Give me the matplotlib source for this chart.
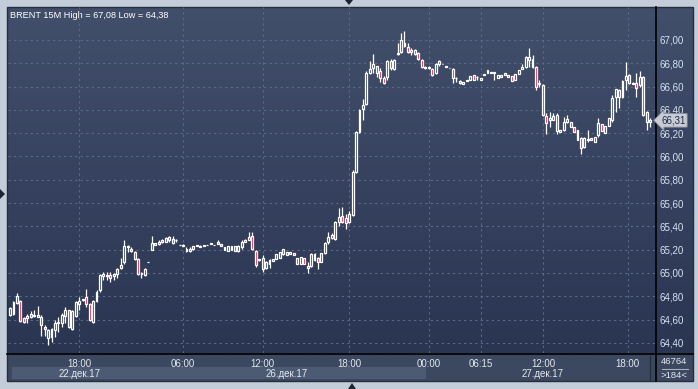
import numpy as np
import matplotlib.pyplot as plt
from matplotlib.colors import LinearSegmentedColormap
from matplotlib.patches import Rectangle, Polygon
from matplotlib.transforms import blended_transform_factory

plt.rcParams['font.family'] = ['Liberation Sans', 'DejaVu Sans']

# BRENT 15M, свечи (open, high, low, close)
opens = [64.64, 64.65, 64.74, 64.76, 64.61, 64.61, 64.65, 64.63, 64.62, 64.62,
         64.54, 64.44, 64.52, 64.51, 64.57, 64.57, 64.63, 64.68, 64.52, 64.63,
         64.73, 64.77, 64.79, 64.73, 64.58, 64.76, 64.85, 64.97, 64.97, 64.98,
         64.97, 64.99, 65.04, 65.09, 65.22, 65.21, 65.18, 65.12, 64.99, 64.98,
         65.09, 65.20, 65.24, 65.25, 65.28, 65.27, 65.28, 65.29, 65.28, 65.24,
         65.24, 65.21, 65.19, 65.21, 65.23, 65.23, 65.23, 65.24, 65.25, 65.24,
         65.25, 65.25, 65.22, 65.19, 65.20, 65.23, 65.19, 65.22, 65.27, 65.28,
         65.32, 65.19, 65.11, 65.13, 65.04, 65.08, 65.10, 65.12, 65.13, 65.21,
         65.18, 65.16, 65.17, 65.13, 65.08, 65.13, 65.06, 65.06, 65.16, 65.13,
         65.09, 65.17, 65.27, 65.33, 65.29, 65.44, 65.49, 65.47, 65.44, 65.50,
         65.87, 66.21, 66.41, 66.45, 66.72, 66.76, 66.78, 66.73, 66.67, 66.68,
         66.82, 66.75, 66.88, 66.90, 66.97, 66.94, 66.90, 66.91, 66.89, 66.83,
         66.77, 66.76, 66.75, 66.72, 66.79, 66.79, 66.77, 66.76, 66.75, 66.67,
         66.65, 66.62, 66.65, 66.66, 66.70, 66.68, 66.66, 66.70, 66.72, 66.72,
         66.72, 66.67, 66.70, 66.70, 66.70, 66.69, 66.66, 66.71, 66.75, 66.77,
         66.83, 66.84, 66.77, 66.62, 66.61, 66.35, 66.31, 66.31, 66.36, 66.21,
         66.23, 66.30, 66.30, 66.25, 66.23, 66.16, 66.08, 66.14, 66.14, 66.12,
         66.18, 66.28, 66.20, 66.26, 66.31, 66.51, 66.57, 66.51, 66.66, 66.70,
         66.63, 66.63, 66.61, 66.68, 66.38, 66.30]
highs = [64.71, 64.76, 64.83, 64.77, 64.62, 64.65, 64.67, 64.68, 64.72, 64.64,
         64.55, 64.52, 64.53, 64.60, 64.62, 64.66, 64.71, 64.68, 64.68, 64.76,
         64.79, 64.78, 64.86, 64.74, 64.77, 64.85, 64.99, 65.01, 65.01, 65.01,
         65.00, 65.04, 65.13, 65.28, 65.24, 65.22, 65.19, 65.13, 65.01, 65.04,
         65.09, 65.32, 65.26, 65.28, 65.29, 65.31, 65.32, 65.32, 65.29, 65.24,
         65.25, 65.22, 65.22, 65.23, 65.24, 65.24, 65.24, 65.24, 65.25, 65.24,
         65.28, 65.25, 65.22, 65.23, 65.23, 65.23, 65.24, 65.28, 65.29, 65.35,
         65.35, 65.20, 65.12, 65.15, 65.10, 65.12, 65.12, 65.16, 65.18, 65.21,
         65.18, 65.18, 65.17, 65.13, 65.14, 65.13, 65.09, 65.17, 65.17, 65.14,
         65.17, 65.27, 65.35, 65.34, 65.45, 65.56, 65.57, 65.51, 65.53, 65.88,
         66.22, 66.41, 66.49, 66.73, 66.82, 66.88, 66.78, 66.76, 66.69, 66.83,
         66.84, 66.84, 66.97, 67.06, 67.08, 66.97, 66.93, 66.92, 66.90, 66.84,
         66.78, 66.78, 66.76, 66.80, 66.83, 66.79, 66.77, 66.76, 66.76, 66.68,
         66.66, 66.64, 66.66, 66.69, 66.70, 66.69, 66.67, 66.71, 66.74, 66.72,
         66.72, 66.70, 66.70, 66.72, 66.70, 66.69, 66.71, 66.74, 66.79, 66.86,
         66.93, 66.87, 66.78, 66.66, 66.62, 66.37, 66.38, 66.37, 66.37, 66.23,
         66.34, 66.36, 66.30, 66.25, 66.23, 66.17, 66.17, 66.23, 66.16, 66.17,
         66.33, 66.28, 66.26, 66.33, 66.53, 66.58, 66.58, 66.66, 66.81, 66.71,
         66.64, 66.72, 66.73, 66.69, 66.39, 66.33]
lows = [64.63, 64.64, 64.73, 64.58, 64.57, 64.57, 64.61, 64.62, 64.62, 64.46,
        64.46, 64.38, 64.41, 64.45, 64.49, 64.54, 64.57, 64.53, 64.51, 64.62,
        64.68, 64.76, 64.71, 64.59, 64.57, 64.75, 64.84, 64.94, 64.94, 64.92,
        64.94, 64.96, 65.03, 65.08, 65.18, 65.18, 65.11, 64.98, 64.96, 64.97,
        65.09, 65.20, 65.24, 65.24, 65.26, 65.27, 65.27, 65.25, 65.27, 65.24,
        65.23, 65.18, 65.18, 65.20, 65.23, 65.22, 65.23, 65.24, 65.25, 65.24,
        65.25, 65.23, 65.20, 65.19, 65.20, 65.19, 65.18, 65.21, 65.27, 65.28,
        65.20, 65.05, 65.10, 65.01, 65.03, 65.04, 65.10, 65.12, 65.13, 65.15,
        65.15, 65.16, 65.15, 65.08, 65.08, 65.08, 65.00, 65.05, 65.10, 65.03,
        65.09, 65.16, 65.25, 65.29, 65.28, 65.40, 65.43, 65.38, 65.43, 65.49,
        65.86, 66.20, 66.31, 66.44, 66.71, 66.72, 66.68, 66.64, 66.62, 66.66,
        66.74, 66.74, 66.87, 66.89, 66.94, 66.89, 66.87, 66.87, 66.83, 66.76,
        66.75, 66.75, 66.69, 66.71, 66.78, 66.79, 66.77, 66.76, 66.63, 66.64,
        66.62, 66.62, 66.65, 66.66, 66.66, 66.66, 66.66, 66.70, 66.72, 66.72,
        66.66, 66.67, 66.68, 66.70, 66.68, 66.65, 66.66, 66.71, 66.75, 66.76,
        66.77, 66.76, 66.57, 66.60, 66.35, 66.19, 66.25, 66.31, 66.19, 66.21,
        66.22, 66.29, 66.25, 66.21, 66.14, 66.02, 66.07, 66.12, 66.14, 66.12,
        66.17, 66.22, 66.20, 66.26, 66.30, 66.38, 66.42, 66.50, 66.57, 66.62,
        66.62, 66.51, 66.60, 66.35, 66.23, 66.25]
closes = [64.70, 64.75, 64.80, 64.59, 64.58, 64.63, 64.62, 64.64, 64.64, 64.55,
          64.52, 64.51, 64.45, 64.57, 64.58, 64.64, 64.68, 64.54, 64.67, 64.75,
          64.76, 64.77, 64.73, 64.60, 64.76, 64.84, 64.98, 64.99, 64.98, 64.96,
          64.99, 65.03, 65.07, 65.23, 65.23, 65.19, 65.12, 64.99, 65.00, 65.03,
          65.09, 65.26, 65.26, 65.27, 65.27, 65.30, 65.31, 65.26, 65.28, 65.24,
          65.23, 65.19, 65.21, 65.23, 65.24, 65.22, 65.24, 65.24, 65.25, 65.24,
          65.27, 65.23, 65.20, 65.23, 65.23, 65.19, 65.23, 65.27, 65.28, 65.31,
          65.21, 65.07, 65.12, 65.03, 65.09, 65.11, 65.12, 65.16, 65.18, 65.16,
          65.15, 65.18, 65.15, 65.08, 65.14, 65.08, 65.04, 65.16, 65.11, 65.09,
          65.17, 65.26, 65.31, 65.30, 65.44, 65.48, 65.44, 65.43, 65.51, 65.87,
          66.21, 66.40, 66.44, 66.72, 66.75, 66.79, 66.72, 66.67, 66.63, 66.82,
          66.76, 66.83, 66.89, 67.00, 66.95, 66.90, 66.91, 66.88, 66.84, 66.77,
          66.76, 66.77, 66.70, 66.79, 66.82, 66.79, 66.77, 66.76, 66.67, 66.67,
          66.63, 66.64, 66.66, 66.69, 66.66, 66.68, 66.67, 66.71, 66.74, 66.72,
          66.72, 66.70, 66.68, 66.72, 66.68, 66.65, 66.71, 66.74, 66.77, 66.85,
          66.85, 66.77, 66.60, 66.63, 66.36, 66.29, 66.33, 66.35, 66.22, 66.23,
          66.30, 66.32, 66.25, 66.21, 66.14, 66.07, 66.16, 66.15, 66.16, 66.17,
          66.29, 66.22, 66.26, 66.33, 66.50, 66.58, 66.51, 66.65, 66.69, 66.63,
          66.62, 66.59, 66.68, 66.36, 66.30, 66.31]

time_ticks = [20, 50, 73, 98, 121, 136, 154, 178.5]
time_labels = ['18:00', '06:00', '12:00', '18:00', '00:00', '06:15', '12:00', '18:00']
date_ticks = [20, 80, 154]
date_labels = ['22.дек.17', '26.дек.17', '27.дек.17']
price_ticks = [64.4, 64.6, 64.8, 65.0, 65.2, 65.4, 65.6, 65.8,
               66.0, 66.2, 66.4, 66.6, 66.8, 67.0]

W, H = 698, 389
fig = plt.figure(figsize=(W / 100, H / 100), dpi=100)
fig.patch.set_facecolor('#c3ccd9')

# рамка терминала в пиксельных координатах
bg = fig.add_axes([0, 0, 1, 1], zorder=0)
grad = np.linspace(0, 1, 256).reshape(-1, 1)
cmap = LinearSegmentedColormap.from_list('panel', ['#424f6b', '#2a3552'])
bg.imshow(grad, cmap=cmap, extent=(7, 693, 353, 7), aspect='auto')
bg.add_patch(Rectangle((7, 353), 686, 28, facecolor='#3c4860', edgecolor='none'))
bg.add_patch(Rectangle((12, 367), 414, 12, facecolor='#4c5a74', edgecolor='none'))
bg.add_patch(Rectangle((7, 7), 686, 374, facecolor='none', edgecolor='#262d3c', lw=1))
bg.plot([7, 693], [353.5, 353.5], color='black', lw=1.2)
bg.plot([655.5, 655.5], [7, 381], color='black', lw=1.2)
bg.plot([650, 650], [356, 380], color='#262d3c', lw=1)
bg.plot([662, 688], [368.5, 368.5], color='#a7b0bf', lw=0.8)
bg.text(10, 15, 'BRENT 15M High = 67,08 Low = 64,38', color='white', fontsize=6.6, va='center')
bg.text(674, 362, '46764', color='#e4e9f0', fontsize=6.8, ha='center', va='center')
bg.text(674, 375, '>184<', color='#e4e9f0', fontsize=6.8, ha='center', va='center')
for tri in ([(345, 0), (353, 0), (349, 5)], [(0, 189), (0, 199), (5, 194)],
            [(348, 389), (356, 389), (352, 383)]):
    bg.add_patch(Polygon(tri, closed=True, facecolor='#1c2333', edgecolor='none'))
bg.set_xlim(0, W)
bg.set_ylim(H, 0)
bg.axis('off')

# область графика
ax = fig.add_axes([8 / W, (H - 353) / H, 647 / W, 346 / H], zorder=2)
ax.patch.set_alpha(0)
ax.set_xlim(-0.58, 186.4)
ax.set_ylim(64.313, 67.283)

o = np.array(opens)
h = np.array(highs)
l = np.array(lows)
c = np.array(closes)
idx = np.arange(len(o))
lo = np.minimum(o, c)
hi = np.maximum(o, c)
up = c >= o

ax.vlines(idx, l, lo, color='white', lw=0.9, zorder=3)
ax.vlines(idx, hi, h, color='white', lw=0.9, zorder=3)
body = np.maximum(hi - lo, 0.003)
ax.bar(idx[up], body[up], bottom=lo[up], width=0.55, facecolor='#33405c',
       edgecolor='white', lw=0.9, zorder=4)
ax.bar(idx[~up], body[~up], bottom=lo[~up], width=0.55, facecolor='#e3133c',
       edgecolor='white', lw=0.9, zorder=4)

ax.yaxis.tick_right()
ax.set_yticks(price_ticks)
ax.set_yticklabels([f'{v:.2f}'.replace('.', ',') for v in price_ticks])
ax.set_xticks(time_ticks)
ax.set_xticklabels(time_labels)
ax.tick_params(axis='y', length=0, pad=3, labelsize=7, labelcolor='#d6e1f2')
ax.tick_params(axis='x', length=0, pad=4, labelsize=7, labelcolor='#e3e8ef')
ax.grid(True, color='#5a6a89', linestyle=(0, (2, 3)), lw=0.8)
for s in ax.spines.values():
    s.set_visible(False)

for x, lab in zip(date_ticks, date_labels):
    ax.text(x, -21 / 346, lab, transform=ax.get_xaxis_transform(), ha='center',
            va='center', fontsize=7, color='#e3e8ef', clip_on=False)

# метка последней цены
tr = blended_transform_factory(ax.transAxes, ax.transData)
ax.text(1 + 6 / 647, c[-1], f'{c[-1]:.2f}'.replace('.', ','), transform=tr,
        ha='left', va='center', fontsize=7, color='#1d2b4a', clip_on=False, zorder=6,
        bbox=dict(boxstyle='larrow,pad=0.18', facecolor='#c9ccd3', edgecolor='#8a93a3', lw=0.6))

fig.savefig('out.png', dpi=100)
